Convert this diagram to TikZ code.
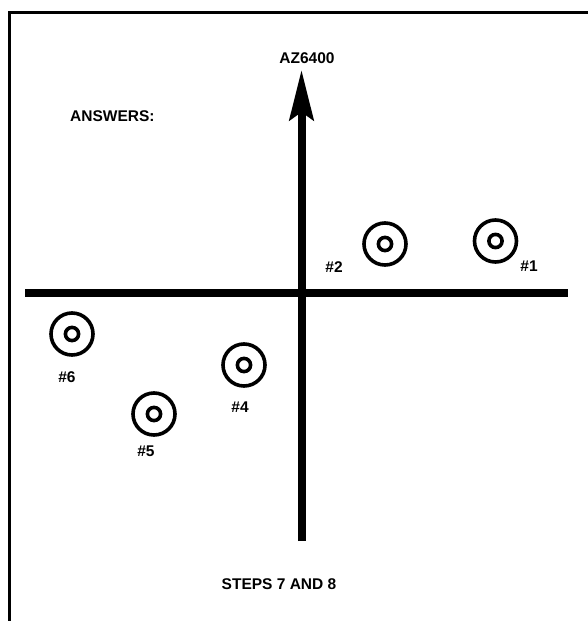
\documentclass[tikz,border=0pt]{standalone}
\usepackage{fontspec}
\setmainfont{Liberation Sans}
\usetikzlibrary{arrows.meta}

\begin{document}
\begin{tikzpicture}[
  x=1pt, y=-1pt,
  font=\fontsize{15.5}{18}\selectfont\bfseries,
  frame/.style={line width=3.6pt, line cap=rect},
  axis/.style={line width=8pt},
  north/.style={axis, -{Stealth[length=50pt, width=24pt, inset=8pt]}},
  target/.style={circle, draw, line width=3.6pt, minimum size=42pt, inner sep=0pt,
    path picture={\draw[line width=3.6pt] (path picture bounding box.center) circle (6.6pt);}},
  tag/.style={inner sep=0pt}
]
\useasboundingbox (0,0) rectangle (587,621);

\coordinate (cornerTL) at (9.5,12.5);
\coordinate (cornerTR) at (590,12.5);
\coordinate (cornerBL) at (9.5,624);
\draw[frame] (cornerBL) -- (cornerTL) -- (cornerTR);

\coordinate (west) at (25,292.5);
\coordinate (east) at (568,292.5);
\coordinate (south) at (301.5,541);
\coordinate (tip) at (301.5,70);
\draw[axis] (west) -- (east);
\draw[north] (south) -- (tip);

\node[tag] (az) at (307,58) {AZ6400};
\node[tag, anchor=west] (answers) at (70,116) {ANSWERS:};

\node[target] (t1) at (495.5,241) {};
\node[target] (t2) at (385,244) {};
\node[target] (t4) at (244,365) {};
\node[target] (t5) at (154,414) {};
\node[target] (t6) at (72,334) {};

\node[tag] (n1) at (529,266) {\#1};
\node[tag] (n2) at (334,267) {\#2};
\node[tag] (n4) at (240,407) {\#4};
\node[tag] (n5) at (146,451) {\#5};
\node[tag] (n6) at (67,377) {\#6};

\node[tag] (steps) at (279,584) {STEPS 7 AND 8};

\end{tikzpicture}
\end{document}
